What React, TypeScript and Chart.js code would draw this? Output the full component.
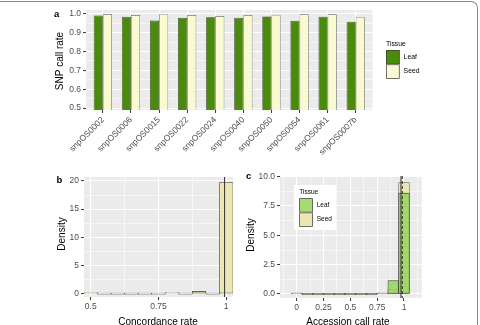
import React, { useEffect, useRef } from "react";
import { Chart, registerables } from "chart.js";

Chart.register(...registerables);

const W = 480;
const H = 325;
const FONT = "'Liberation Sans', Arial, Helvetica, sans-serif";
const TICK_TEXT = "#4D4D4D";
const TICK_MARK = "#333333";
const PANEL_BG = "#EBEBEB";
const LEAF_DARK = "#4B8B0B";
const SEED_LIGHT = "#FAFAD2";
const LEAF_LIGHT = "rgba(150, 211, 92, 0.85)";
const SEED_PALE = "#EDE6B4";
const OUTLINE = "#3A3A3A";

// a: SNP call rate per marker, by tissue
const markers = [
  "snpOS0002",
  "snpOS0006",
  "snpOS0015",
  "snpOS0022",
  "snpOS0024",
  "snpOS0040",
  "snpOS0050",
  "snpOS0054",
  "snpOS0061",
  "snpOS0007b",
];
const leafCallRate = [0.991, 0.984, 0.964, 0.979, 0.981, 0.979, 0.986, 0.963, 0.984, 0.958];
const seedCallRate = [0.997, 0.993, 0.998, 0.993, 0.988, 0.993, 0.995, 0.997, 0.997, 0.982];
const markerPositions = [1, 2, 3, 4, 5, 6, 7, 8, 9, 10];
const callRateTicks = [0.5, 0.6, 0.7, 0.8, 0.9, 1.0];
const callRateLabels = ["0.5", "0.6", "0.7", "0.8", "0.9", "1.0"];
const callRateMinor = [0.55, 0.65, 0.75, 0.85, 0.95];

// b: concordance rate histogram (density)
const concordanceBins = [0.5, 0.55, 0.6, 0.65, 0.7, 0.75, 0.8, 0.85, 0.9, 0.95, 1.0];
const concordanceDensity = [0.05, 0, 0, 0, 0, 0, 0.1, 0, 0.4, 0, 19.7];
const concordanceMean = 0.994;
const concordanceTicks = [0.5, 0.75, 1];
const concordanceLabels = ["0.5", "0.75", "1"];
const concordanceMinor = [0.625, 0.875];
const densityTicksB = [0, 5, 10, 15, 20];
const densityLabelsB = ["0", "5", "10", "15", "20"];
const densityMinorB = [2.5, 7.5, 12.5, 17.5];

// c: accession call rate histogram (density), by tissue
const accessionBins = [0, 0.1, 0.2, 0.3, 0.4, 0.5, 0.6, 0.7, 0.8, 0.9, 1.0];
const leafAccessionDensity = [0.06, 0, 0, 0, 0, 0, 0, 0, 0.05, 1.15, 8.6];
const seedAccessionDensity = [0.05, 0, 0, 0, 0, 0, 0, 0, 0.03, 0.4, 9.5];
const leafAccessionMean = 0.984;
const seedAccessionMean = 0.972;
const accessionTicks = [0, 0.25, 0.5, 0.75, 1];
const accessionLabels = ["0", "0.25", "0.5", "0.75", "1"];
const accessionMinor = [-0.125, 0.125, 0.375, 0.625, 0.875, 1.125];
const densityTicksC = [0, 2.5, 5, 7.5, 10];
const densityLabelsC = ["0.0", "2.5", "5.0", "7.5", "10.0"];
const densityMinorC = [1.25, 3.75, 6.25, 8.75];

type Area = { left: number; top: number; right: number; bottom: number };

function padFor(area: Area, yWidth: number, xHeight: number) {
  return {
    padding: {
      left: area.left - yWidth,
      top: area.top,
      right: W - area.right,
      bottom: H - area.bottom - xHeight,
    },
  };
}

type AxisSpec = {
  min: number;
  max: number;
  major: number[];
  labels: string[];
  minor: number[];
  size: number;
  width?: number;
  height?: number;
  rotation?: number;
  padding?: number;
};

// ggplot-like continuous axis: major + minor white grid lines, short dark ticks
function ggAxis(o: AxisSpec) {
  const all = [...o.major, ...o.minor].sort((a, b) => a - b);
  const isMajor = (v: any) => o.major.indexOf(v) >= 0;
  return {
    type: "linear",
    min: o.min,
    max: o.max,
    offset: false,
    afterBuildTicks: (s: any) => {
      s.ticks = all.map((value) => ({ value }));
    },
    afterFit: (s: any) => {
      if (o.width != null) s.width = o.width;
      if (o.height != null) s.height = o.height;
    },
    border: { display: false },
    grid: {
      offset: false,
      color: "#FFFFFF",
      lineWidth: (c: any) => (isMajor(c.tick && c.tick.value) ? 1.1 : 0.55),
      drawTicks: true,
      tickLength: 3,
      tickWidth: 1,
      tickColor: (c: any) => (isMajor(c.tick && c.tick.value) ? TICK_MARK : "rgba(0,0,0,0)"),
    },
    ticks: {
      autoSkip: false,
      padding: o.padding ?? 2,
      color: TICK_TEXT,
      font: { family: FONT, size: o.size },
      minRotation: o.rotation ?? 0,
      maxRotation: o.rotation ?? 0,
      callback: (v: any) => {
        const i = o.major.indexOf(v);
        return i >= 0 ? o.labels[i] : "";
      },
    },
  };
}

type TextOpts = { bold?: boolean; color?: string; align?: CanvasTextAlign; baseline?: CanvasTextBaseline; angle?: number };

function text(ctx: CanvasRenderingContext2D, s: string, x: number, y: number, size: number, o: TextOpts = {}) {
  ctx.save();
  ctx.translate(x, y);
  if (o.angle) ctx.rotate(o.angle);
  ctx.font = `${o.bold ? "bold " : ""}${size}px ${FONT}`;
  ctx.fillStyle = o.color ?? "#000000";
  ctx.textAlign = o.align ?? "center";
  ctx.textBaseline = o.baseline ?? "middle";
  ctx.fillText(s, 0, 0);
  ctx.restore();
}

function drawTissueLegend(
  ctx: CanvasRenderingContext2D,
  chart: any,
  x: number,
  titleY: number,
  keyTop: number,
  keyW: number,
  keyH: number,
  size: number
) {
  text(ctx, "Tissue", x, titleY, size, { align: "left" });
  chart.data.datasets.forEach((ds: any, i: number) => {
    const y = keyTop + i * keyH;
    ctx.save();
    ctx.fillStyle = "#FFFFFF";
    ctx.fillRect(x, y, keyW, keyH);
    ctx.fillStyle = ds.backgroundColor;
    ctx.fillRect(x, y, keyW, keyH);
    ctx.strokeStyle = OUTLINE;
    ctx.lineWidth = 0.7;
    ctx.strokeRect(x + 0.35, y + 0.35, keyW - 0.7, keyH - 0.7);
    ctx.restore();
    text(ctx, ds.label, x + keyW + 4, y + keyH / 2, size, { align: "left" });
  });
}

const panelBackground = {
  id: "panelBackground",
  beforeDraw(chart: any) {
    const { ctx, chartArea: a } = chart;
    ctx.save();
    ctx.fillStyle = PANEL_BG;
    ctx.fillRect(a.left, a.top, a.right - a.left, a.bottom - a.top);
    ctx.restore();
  },
};

function meanLines(lines: { value: number; dash: number[] }[]) {
  return {
    id: "meanLines",
    afterDatasetsDraw(chart: any) {
      const { ctx, chartArea: a, scales } = chart;
      ctx.save();
      ctx.beginPath();
      ctx.rect(a.left, a.top, a.right - a.left, a.bottom - a.top);
      ctx.clip();
      lines.forEach((l) => {
        const x = scales.x.getPixelForValue(l.value);
        ctx.strokeStyle = "#2F2F2F";
        ctx.lineWidth = 1;
        ctx.setLineDash(l.dash);
        ctx.beginPath();
        ctx.moveTo(x, a.top);
        ctx.lineTo(x, a.bottom);
        ctx.stroke();
      });
      ctx.restore();
    },
  };
}

function annotate(draw: (ctx: CanvasRenderingContext2D, chart: any) => void) {
  return {
    id: "annotate",
    afterDraw(chart: any) {
      draw(chart.ctx, chart);
    },
  };
}

const baseOptions = {
  responsive: false,
  animation: false,
  devicePixelRatio: 1,
  events: [],
};

const hidden = { legend: { display: false }, tooltip: { enabled: false } };

function buildA() {
  const area = { left: 86, top: 10, right: 372.6, bottom: 110 };
  const bar = { borderSkipped: false, clip: 0, categoryPercentage: 0.65, barPercentage: 1, borderWidth: 0.7 };
  return {
    type: "bar",
    data: {
      datasets: [
        {
          label: "Leaf",
          data: markerPositions.map((x, i) => ({ x, y: leafCallRate[i] })),
          backgroundColor: LEAF_DARK,
          borderColor: "#2C3A20",
          ...bar,
        },
        {
          label: "Seed",
          data: markerPositions.map((x, i) => ({ x, y: seedCallRate[i] })),
          backgroundColor: SEED_LIGHT,
          borderColor: "#5A5A4A",
          ...bar,
        },
      ],
    },
    options: {
      ...baseOptions,
      layout: padFor(area, 30, 60),
      plugins: hidden,
      scales: {
        x: ggAxis({ min: 0.4, max: 10.6, major: markerPositions, labels: markers, minor: [], size: 8.5, rotation: 45, height: 60 }),
        y: ggAxis({ min: 0.49, max: 1.02, major: callRateTicks, labels: callRateLabels, minor: callRateMinor, size: 8.5, width: 30 }),
      },
    },
    plugins: [
      panelBackground,
      annotate((ctx, chart) => {
        text(ctx, "a", 54, 16.7, 9.5, { bold: true, align: "left", baseline: "alphabetic" });
        text(ctx, "SNP call rate", 60, 61, 10, { angle: -Math.PI / 2 });
        drawTissueLegend(ctx, chart, 386, 44, 50, 13.6, 14.4, 6.8);
      }),
    ],
  };
}

function buildB() {
  const area = { left: 84, top: 177, right: 233, bottom: 297 };
  return {
    type: "bar",
    data: {
      datasets: [
        {
          label: "Concordance",
          data: concordanceBins.map((x, i) => ({ x, y: concordanceDensity[i] })),
          backgroundColor: SEED_PALE,
          borderColor: OUTLINE,
          borderWidth: 0.6,
          borderSkipped: false,
          minBarLength: 1,
          clip: 0,
          categoryPercentage: 1,
          barPercentage: 1,
        },
      ],
    },
    options: {
      ...baseOptions,
      layout: padFor(area, 30, 20),
      plugins: hidden,
      scales: {
        x: ggAxis({ min: 0.475, max: 1.025, major: concordanceTicks, labels: concordanceLabels, minor: concordanceMinor, size: 8.5, height: 20 }),
        y: ggAxis({ min: -0.6, max: 20.7, major: densityTicksB, labels: densityLabelsB, minor: densityMinorB, size: 8.5, width: 30 }),
      },
    },
    plugins: [
      panelBackground,
      meanLines([{ value: concordanceMean, dash: [] }]),
      annotate((ctx) => {
        text(ctx, "b", 56.5, 182.7, 9.5, { bold: true, align: "left", baseline: "alphabetic" });
        text(ctx, "Density", 62, 234, 10, { angle: -Math.PI / 2 });
        text(ctx, "Concordance rate", 158, 324.5, 10, { baseline: "alphabetic" });
      }),
    ],
  };
}

function buildC() {
  const area = { left: 280, top: 176, right: 421.7, bottom: 298 };
  const hist = {
    borderColor: OUTLINE,
    borderWidth: 0.6,
    borderSkipped: false,
    minBarLength: 1,
    clip: 0,
    grouped: false,
    categoryPercentage: 1,
    barPercentage: 1,
  };
  return {
    type: "bar",
    data: {
      datasets: [
        {
          label: "Leaf",
          data: accessionBins.map((x, i) => ({ x, y: leafAccessionDensity[i] })),
          backgroundColor: LEAF_LIGHT,
          ...hist,
        },
        {
          label: "Seed",
          data: accessionBins.map((x, i) => ({ x, y: seedAccessionDensity[i] })),
          backgroundColor: SEED_PALE,
          ...hist,
        },
      ],
    },
    options: {
      ...baseOptions,
      layout: padFor(area, 30, 20),
      plugins: hidden,
      scales: {
        x: ggAxis({ min: -0.156, max: 1.165, major: accessionTicks, labels: accessionLabels, minor: accessionMinor, size: 8.5, height: 20 }),
        y: ggAxis({ min: -0.34, max: 10.06, major: densityTicksC, labels: densityLabelsC, minor: densityMinorC, size: 8.5, width: 30 }),
      },
    },
    plugins: [
      panelBackground,
      meanLines([
        { value: seedAccessionMean, dash: [] },
        { value: leafAccessionMean, dash: [3, 2] },
      ]),
      annotate((ctx, chart) => {
        text(ctx, "c", 246, 179.3, 9.5, { bold: true, align: "left", baseline: "alphabetic" });
        text(ctx, "Density", 251.7, 235, 10, { angle: -Math.PI / 2 });
        text(ctx, "Accession call rate", 348, 324.5, 10, { baseline: "alphabetic" });
        ctx.save();
        ctx.fillStyle = "#FFFFFF";
        ctx.fillRect(294, 185, 42, 45);
        ctx.restore();
        drawTissueLegend(ctx, chart, 299.3, 192, 198.3, 13.4, 14.2, 6.5);
      }),
    ],
  };
}

function Panel({ build }: { build: () => any }) {
  const ref = useRef<HTMLCanvasElement>(null);
  useEffect(() => {
    const chart = new Chart(ref.current as HTMLCanvasElement, build() as any);
    return () => chart.destroy();
  }, [build]);
  return (
    <canvas
      ref={ref}
      width={W}
      height={H}
      style={{ position: "absolute", left: 0, top: 0, width: W, height: H }}
    />
  );
}

export default function App() {
  return (
    <div
      style={{
        position: "absolute",
        left: 0,
        top: 0,
        width: W,
        height: H,
        overflow: "hidden",
        background: "#FFFFFF",
      }}
    >
      <div
        style={{
          position: "absolute",
          left: -20,
          top: 1,
          width: 498,
          height: H,
          boxSizing: "border-box",
          borderTop: "1px solid #8A8A8A",
          borderRight: "1px solid #8A8A8A",
          borderTopRightRadius: 7,
        }}
      />
      <Panel build={buildA} />
      <Panel build={buildB} />
      <Panel build={buildC} />
    </div>
  );
}
